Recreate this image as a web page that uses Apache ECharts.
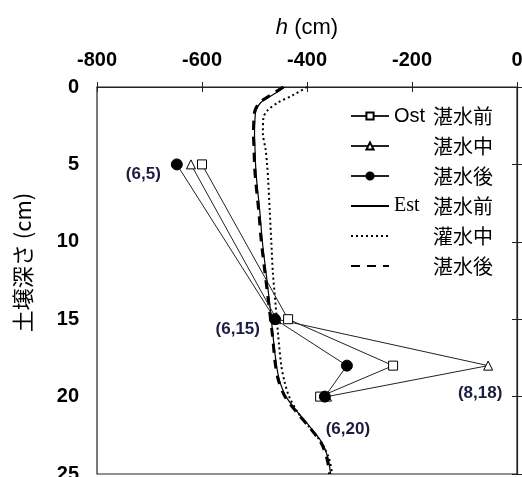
<!DOCTYPE html>
<html>
<head>
<meta charset="utf-8">
<script src="https://cdn.jsdelivr.net/npm/echarts@6.0.0/dist/echarts.min.js"></script>
<style>
  html, body { margin: 0; padding: 0; background: #fff; }
  #main { width: 522px; height: 477px; }
</style>
</head>
<body>
<div id="main"></div>
<script>
// depth (cm) of the Ost sensors
var depthOst = [5, 15, 18, 20];
// Ost pressure head h (cm)
var ostBefore = [-600, -436, -236, -375];
var ostDuring = [-621, -458, -55, -362];
var ostAfter  = [-648, -461, -324, -366];
// notes next to points
var notesAfter  = ['(6,5)', '(6,15)', '', '(6,20)'];
var notesDuring = ['', '', '(8,18)', ''];

// Est profiles
var depthEst  = [0, 0.5, 1, 1.5, 2, 3, 4, 5, 6, 8, 10, 12, 14, 16, 18, 19, 20, 21, 22, 23, 24, 25];
var estBefore = [-442, -465, -488, -497, -499, -500, -499, -498, -496, -490, -485, -478, -471, -465, -458, -452, -440, -418, -393, -371, -360, -355];
var estDuring = [-400, -425, -455, -475, -483, -484, -479, -476, -474, -471, -468, -465, -460, -455, -449, -443, -434, -418, -395, -372, -358, -352];
var estAfter  = [-445, -468, -490, -499, -501, -502, -501, -500, -498, -492, -487, -480, -473, -466, -460, -454, -442, -420, -395, -373, -362, -357];

var xTicks = [-800, -600, -400, -200, 0];
var yTicks = [0, 5, 10, 15, 20, 25];

var seriesNames = ['Ost 湛水前', 'Ost 湛水中', 'Ost 湛水後', 'Est 湛水前', 'Est 灌水中', 'Est 湛水後'];

var noteLabel = {
    '(6,5)':  { position: 'left', distance: 10, offset: [0, 10] },
    '(6,15)': { position: 'left', distance: 9, offset: [0, 10] },
    '(6,20)': { position: 'bottom', distance: 18, offset: [23, 0] },
    '(8,18)': { position: 'bottom', distance: 14, offset: [-8, 0] }
};

function pairs(xs, ys) {
    var out = [];
    for (var i = 0; i < xs.length; i++) out.push([xs[i], ys[i]]);
    return out;
}

function withNotes(xs, ys, notes) {
    var out = [];
    for (var i = 0; i < xs.length; i++) {
        var item = { value: [xs[i], ys[i]] };
        if (notes[i]) {
            var cfg = noteLabel[notes[i]];
            item.label = {
                show: true,
                formatter: notes[i],
                position: cfg.position,
                distance: cfg.distance,
                offset: cfg.offset,
                color: '#1c1c40',
                fontWeight: 'bold',
                fontSize: 17,
                fontFamily: 'Arial'
            };
        }
        out.push(item);
    }
    return out;
}

var chart = echarts.init(document.getElementById('main'));

var lblFont = { color: '#000', fontWeight: 'bold', fontSize: 20, fontFamily: 'Arial' };

// legend entries; Est lines show no marker
var legendData = seriesNames.map(function (n, i) {
    return i < 3 ? { name: n } : { name: n, itemStyle: { opacity: 0 } };
});

chart.setOption({
    animation: false,
    grid: { left: 97, right: 5, top: 87, bottom: 3, outerBoundsMode: 'none', containLabel: false,
            show: true, borderColor: '#222', borderWidth: 1.2, backgroundColor: 'transparent' },
    legend: {
        orient: 'vertical',
        left: 345,
        top: 101,
        itemWidth: 38,
        itemHeight: 9,
        itemGap: 10,
        data: legendData,
        formatter: function (name) {
            var pre = name.slice(0, 3);
            var rest = name.slice(4);
            if (name === 'Ost 湛水前') return '{o|' + pre + '}{t|' + rest + '}';
            if (name === 'Est 湛水前') return '{s|' + pre + '}{t|' + rest + '}';
            return '{s|}{t|' + rest + '}';
        },
        textStyle: {
            rich: {
                o: { width: 39, fontSize: 20, fontFamily: 'Arial', color: '#000', lineHeight: 20 },
                s: { width: 39, fontSize: 20, fontFamily: 'Liberation Serif', color: '#000', lineHeight: 20 },
                t: { fontSize: 20, fontFamily: 'Noto Sans CJK JP', color: '#000', lineHeight: 20 }
            }
        }
    },
    xAxis: [{
        type: 'value',
        position: 'top',
        min: xTicks[0],
        max: xTicks[xTicks.length - 1],
        interval: 200,
        name: '{i|h} (cm)',
        nameLocation: 'middle',
        nameGap: 48,
        nameTextStyle: {
            fontSize: 22, fontFamily: 'Arial', color: '#000',
            rich: { i: { fontSize: 22, fontFamily: 'Arial', fontStyle: 'italic', color: '#000' } }
        },
        axisLine: { show: true, lineStyle: { color: '#222', width: 1.2 } },
        axisTick: { show: true, inside: false, length: 5, lineStyle: { color: '#222' } },
        axisLabel: Object.assign({ margin: 17 }, lblFont),
        splitLine: { show: false }
    }, {
        type: 'value',
        position: 'top',
        min: xTicks[0],
        max: xTicks[xTicks.length - 1],
        interval: 200,
        axisLine: { show: false },
        axisTick: { show: true, inside: true, length: 5, lineStyle: { color: '#222' } },
        axisLabel: { show: false },
        splitLine: { show: false }
    }],
    yAxis: [{
        type: 'value',
        inverse: true,
        min: yTicks[0],
        max: yTicks[yTicks.length - 1],
        interval: 5,
        name: '土壌深さ (cm)',
        nameLocation: 'middle',
        nameRotate: 90,
        nameGap: 63,
        nameTextStyle: { fontSize: 22, fontFamily: 'Noto Sans CJK JP', color: '#000', padding: [0, 0, 0, 36] },
        axisLine: { show: true, lineStyle: { color: '#222', width: 1.2 } },
        axisTick: { show: true, inside: false, length: 5, lineStyle: { color: '#222' } },
        axisLabel: Object.assign({ margin: 18 }, lblFont),
        splitLine: { show: false }
    }, {
        type: 'value',
        inverse: true,
        min: yTicks[0],
        max: yTicks[yTicks.length - 1],
        interval: 5,
        position: 'left',
        axisLine: { show: false },
        axisTick: { show: true, inside: true, length: 5, lineStyle: { color: '#222' } },
        axisLabel: { show: false },
        splitLine: { show: false }
    }],
    series: [{
        name: seriesNames[0],
        type: 'line',
        z: 5,
        data: pairs(ostBefore, depthOst),
        symbol: 'rect',
        symbolSize: 9,
        itemStyle: { color: '#fff', borderColor: '#000', borderWidth: 1 },
        lineStyle: { color: '#222', width: 1 }
    }, {
        name: seriesNames[1],
        type: 'line',
        z: 5,
        data: withNotes(ostDuring, depthOst, notesDuring),
        symbol: 'triangle',
        symbolSize: 9,
        itemStyle: { color: '#fff', borderColor: '#000', borderWidth: 1 },
        lineStyle: { color: '#222', width: 1 }
    }, {
        name: seriesNames[2],
        type: 'line',
        z: 6,
        data: withNotes(ostAfter, depthOst, notesAfter),
        symbol: 'circle',
        symbolSize: 11,
        itemStyle: { color: '#000', borderColor: '#000', borderWidth: 1 },
        lineStyle: { color: '#222', width: 1 }
    }, {
        name: seriesNames[3],
        type: 'line',
        z: 2,
        data: pairs(estBefore, depthEst),
        symbol: 'none',
        smooth: 0.3,
        lineStyle: { color: '#000', width: 1.2, type: 'solid' },
        itemStyle: { color: '#000' }
    }, {
        name: seriesNames[4],
        type: 'line',
        z: 2,
        data: pairs(estDuring, depthEst),
        symbol: 'none',
        smooth: 0.3,
        lineStyle: { color: '#000', width: 2, type: [2, 3] },
        itemStyle: { color: '#000' }
    }, {
        name: seriesNames[5],
        type: 'line',
        z: 2,
        data: pairs(estAfter, depthEst),
        symbol: 'none',
        smooth: 0.3,
        lineStyle: { color: '#000', width: 3, type: [9, 7] },
        itemStyle: { color: '#000' }
    }]
});
</script>
</body>
</html>
